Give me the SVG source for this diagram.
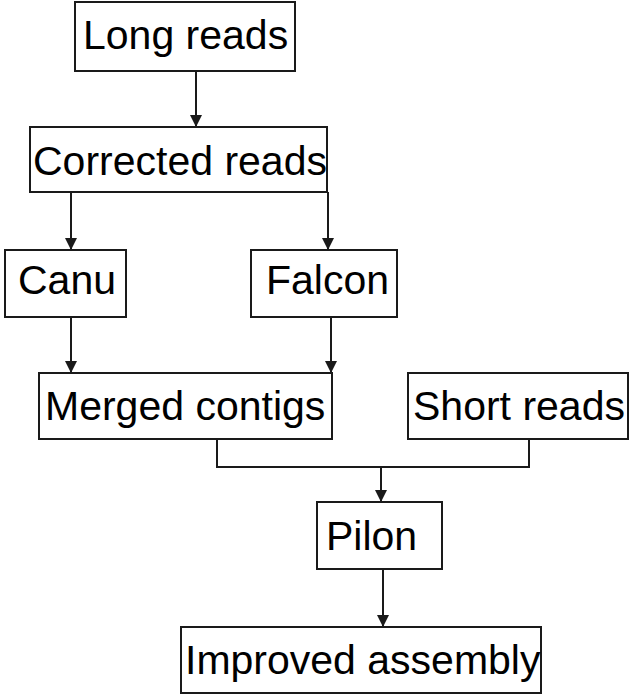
<svg xmlns="http://www.w3.org/2000/svg" width="629" height="697" viewBox="0 0 629 697">
  <style>
    .box { fill: #ffffff; stroke: #1a1a1a; stroke-width: 2; }
    .lbl { font-family: "Liberation Sans", Arial, sans-serif; font-size: 41px; fill: #000000; }
    .edge { fill: none; stroke: #1a1a1a; stroke-width: 2; }
  </style>
  <defs>
    <marker id="arrow" markerUnits="userSpaceOnUse" markerWidth="12" markerHeight="12" refX="12" refY="6" orient="auto">
      <path d="M0,0 L12,6 L0,12 Z" fill="#1a1a1a"/>
    </marker>
  </defs>
  <rect width="629" height="697" fill="#ffffff"/>

  <g id="edges">
    <line class="edge" x1="196" y1="71" x2="196" y2="127" marker-end="url(#arrow)"/>
    <line class="edge" x1="71" y1="192" x2="71" y2="250" marker-end="url(#arrow)"/>
    <line class="edge" x1="328" y1="192" x2="328" y2="250" marker-end="url(#arrow)"/>
    <line class="edge" x1="71" y1="317" x2="71" y2="373" marker-end="url(#arrow)"/>
    <line class="edge" x1="331" y1="317" x2="331" y2="373" marker-end="url(#arrow)"/>
    <polyline class="edge" points="217,439 217,467 529,467 529,439"/>
    <line class="edge" x1="381" y1="467" x2="381" y2="502" marker-end="url(#arrow)"/>
    <line class="edge" x1="383" y1="569" x2="383" y2="627" marker-end="url(#arrow)"/>
  </g>

  <g id="long-reads">
    <rect class="box" x="75" y="2" width="220" height="69"/>
    <text class="lbl" x="83" y="49">Long reads</text>
  </g>
  <g id="corrected-reads">
    <rect class="box" x="30" y="127" width="297" height="65"/>
    <text class="lbl" x="33" y="175">Corrected reads</text>
  </g>
  <g id="canu">
    <rect class="box" x="5" y="250" width="121" height="67"/>
    <text class="lbl" x="18" y="294">Canu</text>
  </g>
  <g id="falcon">
    <rect class="box" x="251" y="250" width="146" height="67"/>
    <text class="lbl" x="266" y="294">Falcon</text>
  </g>
  <g id="merged-contigs">
    <rect class="box" x="39" y="373" width="293" height="66"/>
    <text class="lbl" x="45" y="420">Merged contigs</text>
  </g>
  <g id="short-reads">
    <rect class="box" x="408" y="373" width="220" height="66"/>
    <text class="lbl" x="413" y="420">Short reads</text>
  </g>
  <g id="pilon">
    <rect class="box" x="317" y="502" width="125" height="67"/>
    <text class="lbl" x="326" y="550">Pilon</text>
  </g>
  <g id="improved-assembly">
    <rect class="box" x="181" y="627" width="360" height="66"/>
    <text class="lbl" x="185" y="674">Improved assembly</text>
  </g>
</svg>
